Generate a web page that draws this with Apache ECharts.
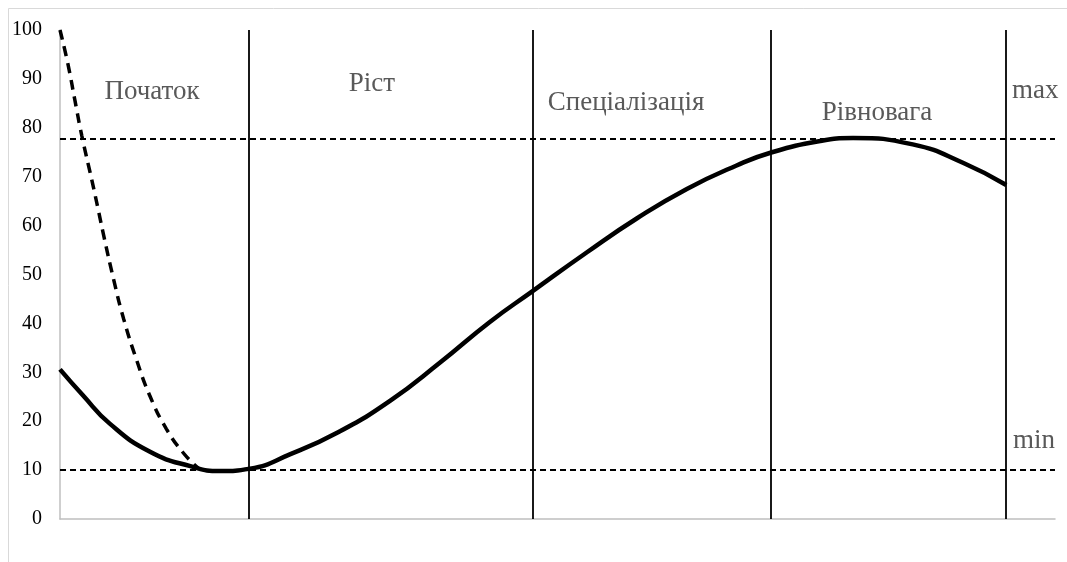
<!DOCTYPE html>
<html>
<head>
<meta charset="utf-8">
<script src="https://cdn.jsdelivr.net/npm/echarts@6/dist/echarts.min.js"></script>
<style>html,body{margin:0;padding:0;background:#fff;}#c{width:1067px;height:562px;}</style>
</head>
<body>
<div id="c"></div>
<script>
// y-axis ticks
var yTicks = [0, 10, 20, 30, 40, 50, 60, 70, 80, 90, 100];
// stage boundaries (x position, 0..100 scale)
var stageBounds = [19.0, 47.5, 71.4, 95.1];
// stage names
var stageNames = ['Початок', 'Ріст', 'Спеціалізація', 'Рівновага'];
// reference levels
var levelMin = 10;
var levelMax = 77.8;
// main (solid) curve
var mainCurve = [[0,30.6],[2.3,25.3],[5,19.5],[9,13.8],[13.1,10.8],[16.1,9.8],[19.1,10.3],[23.1,13.2],[28.1,17.9],[33.2,24.2],[38.2,32.0],[43.2,40.3],[47.5,46.6],[53,54.6],[58,61.5],[63,67.5],[68,72.3],[71.4,74.9],[76.4,77.3],[79.7,77.9],[85.7,76.6],[90.8,72.8],[95.1,68.3]];
// dashed curve
var dashCurve = [[0,100],[0.8,93.0],[1.5,85.6],[2.2,78.3],[3.2,69.3],[3.9,62.7],[4.4,57.9],[5.4,48.9],[6.4,40.9],[7.7,32.5],[9.05,25.1],[10.7,18.4],[12.4,13.5],[13.9,10.4]];

var FONT = "'Liberation Serif', 'DejaVu Serif', serif";
var chart = echarts.init(document.getElementById('c'), null, {renderer: 'canvas'});

function label(text, x, y, align) {
  return {type: 'text', x: x, y: y, z: 100,
    style: {text: text, fill: '#595959', font: '27px ' + FONT, textAlign: align || 'center', textVerticalAlign: 'middle'}};
}

var option = {
  animation: false,
  backgroundColor: '#fff',
  grid: {left: 60, right: 12, top: 30, bottom: 43},
  xAxis: {type: 'value', min: 0, max: 100,
    axisLine: {show: true, lineStyle: {color: '#bfbfbf', width: 1.5}},
    axisTick: {show: false}, axisLabel: {show: false}, splitLine: {show: false}},
  yAxis: {type: 'value', min: 0, max: 100, interval: 10,
    axisLine: {show: true, lineStyle: {color: '#bfbfbf', width: 1.5}},
    axisTick: {show: false},
    axisLabel: {color: '#000', fontFamily: FONT, fontSize: 20, margin: 18},
    splitLine: {show: false}},
  graphic: [
    {type: 'rect', shape: {x: 8.5, y: 8.5, width: 1200, height: 700}, style: {fill: 'none', stroke: '#d9d9d9', lineWidth: 1}, z: -1},
    label(stageNames[0], 152, 92),
    label(stageNames[1], 372, 84),
    label(stageNames[2], 626, 103),
    label(stageNames[3], 877, 113),
    label('max', 1012, 91, 'left'),
    label('min', 1013, 441, 'left')
  ],
  series: [
    {type: 'line', data: mainCurve, smooth: 0.5, symbol: 'none',
      lineStyle: {color: '#000', width: 4.5}, z: 5,
      markLine: {silent: true, symbol: 'none', label: {show: false},
        data: stageBounds.map(function (v) { return {xAxis: v}; }),
        lineStyle: {color: '#000', width: 1.8, type: 'solid'}}},
    {type: 'line', data: dashCurve, smooth: 0.5, symbol: 'none',
      lineStyle: {color: '#000', width: 3.5, type: [10, 7]}, z: 4,
      markLine: {silent: true, symbol: 'none', label: {show: false},
        data: [{yAxis: levelMin}, {yAxis: levelMax}],
        lineStyle: {color: '#000', width: 1.8, type: [6, 4]}}}
  ]
};
chart.setOption(option);
</script>
</body>
</html>
